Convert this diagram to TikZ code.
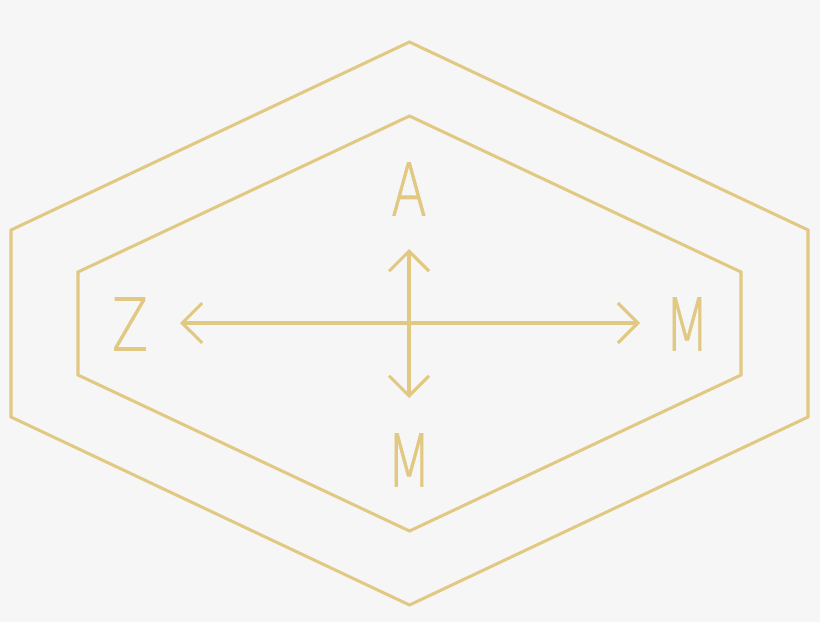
\documentclass[tikz,border=0pt]{standalone}
\usepackage{fontspec}
\newfontfamily\thinsans{DejaVu Sans ExtraLight}[FakeBold=1.2]
\usetikzlibrary {arrows.meta}
\definecolor{gold}{HTML}{E2C983}
\definecolor{paper}{HTML}{F6F6F6}

\begin{document}
\begin{tikzpicture}[x=0.03cm,y=-0.03cm,
    rim/.style={draw=gold,line width=2.6pt,line join=miter},
    axis/.style={draw=gold,line width=2.6pt,{Straight Barb[length=0.6cm,width=1.2cm]}-{Straight Barb[length=0.6cm,width=1.2cm]}},
    glyph/.style={text=gold,font=\thinsans\fontsize{62}{62}\selectfont,inner sep=0pt,anchor=center,xscale=0.72}]
    \fill[paper] (0,0) rectangle (820,622);
    % \pgfmathsetmacro{\w}{398.5}
    \foreach \w/\s/\t in {398.5/93.5/281.5,331.5/51.5/207.5}{
        \draw[rim] (409.5,323.5) ++(0,-\t) --++ (\w,\t-\s) --++ (0,2*\s) --++ (-\w,\t-\s) --++ (-\w,\s-\t) --++ (0,-2*\s) -- cycle;
    };
    \node[glyph] (north) at (409,189) {A};
    \node[glyph] (west) at (130,324) {Z};
    \node[glyph] (east) at (687,324) {M};
    \node[glyph] (south) at (409,460) {M};
    \coordinate (w) at (180,323);
    \coordinate (e) at (640,323);
    \coordinate (n) at (409,249);
    \coordinate (s) at (409,398);
    \draw[axis] (w) -- (e);
    \draw[axis] (n) -- (s);
\end{tikzpicture}
\end{document}
